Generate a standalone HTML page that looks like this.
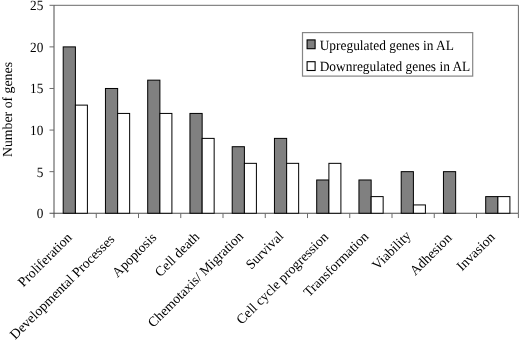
<!DOCTYPE html><html><head><meta charset="utf-8"><style>html,body{margin:0;padding:0;background:#fff;}svg{display:block;font-family:"Liberation Serif",serif;text-rendering:geometricPrecision;will-change:transform;}</style></head><body>
<svg width="520" height="341" viewBox="0 0 520 341">
<rect width="520" height="341" fill="#fff"/>
<path d="M54.0 5.3 H518.4 V213.25" stroke="#6a6a6a" stroke-width="1" fill="none"/>
<g stroke="#4c4c4c" stroke-width="1" fill="none">
<path d="M54.0 5.3 V217.75"/>
<path d="M49.5 213.25 H518.4"/>
<path d="M96.25 213.25 V218.05" stroke="#6a6a6a"/>
<path d="M138.50 213.25 V218.05" stroke="#6a6a6a"/>
<path d="M180.75 213.25 V218.05" stroke="#6a6a6a"/>
<path d="M223.00 213.25 V218.05" stroke="#6a6a6a"/>
<path d="M265.25 213.25 V218.05" stroke="#6a6a6a"/>
<path d="M307.50 213.25 V218.05" stroke="#6a6a6a"/>
<path d="M349.75 213.25 V218.05" stroke="#6a6a6a"/>
<path d="M392.00 213.25 V218.05" stroke="#6a6a6a"/>
<path d="M434.25 213.25 V218.05" stroke="#6a6a6a"/>
<path d="M476.50 213.25 V218.05" stroke="#6a6a6a"/>
<path d="M518.40 213.25 V218.05" stroke="#6a6a6a"/>
<path d="M49.5 171.66 H54.0" stroke="#6a6a6a"/>
<path d="M49.5 130.07 H54.0" stroke="#6a6a6a"/>
<path d="M49.5 88.48 H54.0" stroke="#6a6a6a"/>
<path d="M49.5 46.89 H54.0" stroke="#6a6a6a"/>
<path d="M49.5 5.30 H54.0" stroke="#6a6a6a"/>
</g>
<g stroke="#000" stroke-width="1">
<rect x="63.20" y="46.89" width="12.2" height="166.36" fill="#808080"/>
<rect x="75.40" y="105.12" width="12.0" height="108.13" fill="#fff"/>
<rect x="105.45" y="88.48" width="12.2" height="124.77" fill="#808080"/>
<rect x="117.65" y="113.43" width="12.0" height="99.82" fill="#fff"/>
<rect x="147.70" y="80.16" width="12.2" height="133.09" fill="#808080"/>
<rect x="159.90" y="113.43" width="12.0" height="99.82" fill="#fff"/>
<rect x="189.95" y="113.43" width="12.2" height="99.82" fill="#808080"/>
<rect x="202.15" y="138.39" width="12.0" height="74.86" fill="#fff"/>
<rect x="232.20" y="146.71" width="12.2" height="66.54" fill="#808080"/>
<rect x="244.40" y="163.34" width="12.0" height="49.91" fill="#fff"/>
<rect x="274.45" y="138.39" width="12.2" height="74.86" fill="#808080"/>
<rect x="286.65" y="163.34" width="12.0" height="49.91" fill="#fff"/>
<rect x="316.70" y="179.98" width="12.2" height="33.27" fill="#808080"/>
<rect x="328.90" y="163.34" width="12.0" height="49.91" fill="#fff"/>
<rect x="358.95" y="179.98" width="12.2" height="33.27" fill="#808080"/>
<rect x="371.15" y="196.61" width="12.0" height="16.64" fill="#fff"/>
<rect x="401.20" y="171.66" width="12.2" height="41.59" fill="#808080"/>
<rect x="413.40" y="204.93" width="12.0" height="8.32" fill="#fff"/>
<rect x="443.45" y="171.66" width="12.2" height="41.59" fill="#808080"/>
<rect x="485.70" y="196.61" width="12.2" height="16.64" fill="#808080"/>
<rect x="497.90" y="196.61" width="12.0" height="16.64" fill="#fff"/>
</g>
<g font-size="14.1" fill="#000" text-anchor="end">
<text transform="translate(43.3,218.15) scale(0.94,1)">0</text>
<text transform="translate(43.3,176.56) scale(0.94,1)">5</text>
<text transform="translate(43.3,134.97) scale(0.94,1)">10</text>
<text transform="translate(43.3,93.38) scale(0.94,1)">15</text>
<text transform="translate(43.3,51.79) scale(0.94,1)">20</text>
<text transform="translate(43.3,10.20) scale(0.94,1)">25</text>
</g>
<text font-size="13.8" transform="translate(12.1,157.0) rotate(-90)">Number of genes</text>
<g font-size="13.8" fill="#000" text-anchor="end">
<text transform="translate(72.67,238.30) rotate(-45)">Proliferation</text>
<text transform="translate(115.33,240.00) rotate(-45)">Developmental Processes</text>
<text transform="translate(157.18,238.30) rotate(-45)">Apoptosis</text>
<text transform="translate(200.12,237.60) rotate(-45)">Cell death</text>
<text transform="translate(244.08,237.10) rotate(-45)">Chemotaxis/ Migration</text>
<text transform="translate(284.23,236.90) rotate(-45)">Survival</text>
<text transform="translate(329.03,237.70) rotate(-45)">Cell cycle progression</text>
<text transform="translate(369.32,237.25) rotate(-45)">Transformation</text>
<text transform="translate(411.73,236.40) rotate(-45)">Viability</text>
<text transform="translate(452.62,238.70) rotate(-45)">Adhesion</text>
<text transform="translate(495.68,237.90) rotate(-45)">Invasion</text>
</g>
<rect x="302.5" y="32.6" width="170.2" height="43.5" fill="#fff" stroke="#858585" stroke-width="1.2"/>
<rect x="307.1" y="39.9" width="8" height="8.8" fill="#808080" stroke="#000" stroke-width="1.1"/>
<rect x="307.1" y="61.7" width="8" height="8.8" fill="#fff" stroke="#000" stroke-width="1.1"/>
<text font-size="14.1" transform="translate(319.7,49.8) scale(0.95,1)">Upregulated genes in AL</text>
<text font-size="14.1" transform="translate(319.7,71.25) scale(0.95,1)">Downregulated genes in AL</text>
</svg></body></html>
